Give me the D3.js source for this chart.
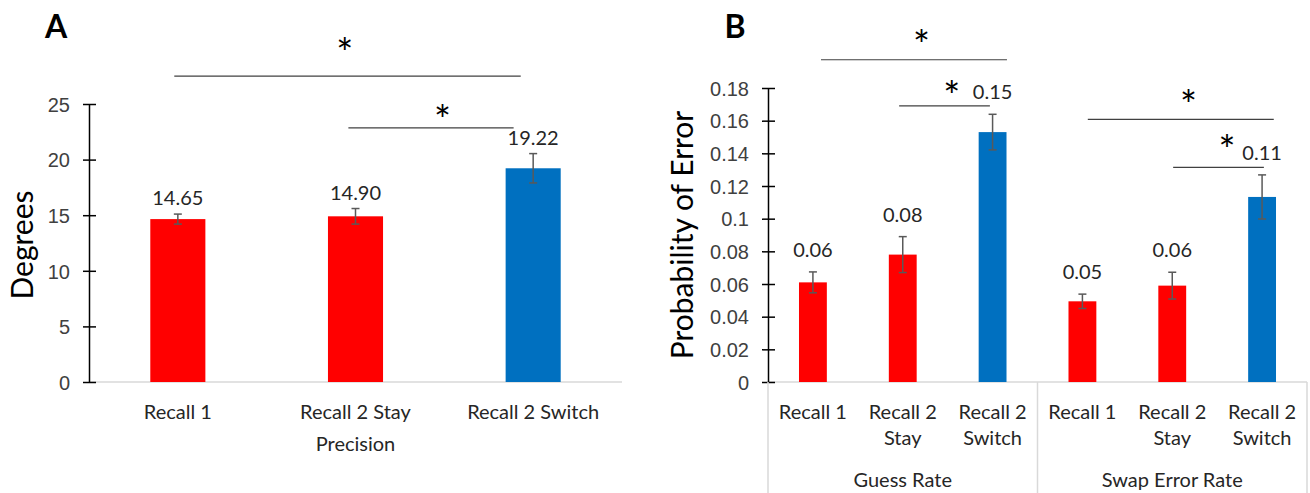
<!DOCTYPE html>
<html>
<head>
<meta charset="utf-8">
<script src="https://cdn.jsdelivr.net/npm/d3@7"></script>
<style>
  body { margin: 0; background: #fff; }
  svg { display: block; font-family: Lato, "Open Sans", sans-serif; }
  .tick text { font-size: 20px; fill: #404040; }
</style>
</head>
<body>
<svg id="chart" width="1310" height="493"></svg>
<script>
'use strict'

// Panel A: precision
const catsA = ['Recall 1', 'Recall 2 Stay', 'Recall 2 Switch']
const valsA = [14.65, 14.90, 19.22]
const errA = [0.45, 0.70, 1.32]
const ticksA = [0, 5, 10, 15, 20, 25]
const groupA = 'Precision'

// Panel B: guess / swap rates
const groupsB = ['Guess Rate', 'Swap Error Rate']
const condsB = ['Recall 1', 'Recall 2 Stay', 'Recall 2 Switch']
const guessVals = [0.061, 0.078, 0.153]
const guessErr = [0.0064, 0.011, 0.0109]
const swapVals = [0.0494, 0.059, 0.1133]
const swapErr = [0.0044, 0.0082, 0.0135]
const ticksB = [0, 0.02, 0.04, 0.06, 0.08, 0.1, 0.12, 0.14, 0.16, 0.18]

// significance brackets, x in category-slot units, y in data units
const sigA = [
  { from: 0.48, to: 2.43, level: 27.5, sx: 1.44, sy: 30.3 },
  { from: 1.46, to: 2.39, level: 22.85, sx: 1.99, sy: 24.3 }
]
const sigB = [
  { from: 0.59, to: 2.66, level: 0.1973, sx: 1.71, sy: 0.2112 },
  { from: 1.46, to: 2.47, level: 0.1691, sx: 2.045, sy: 0.18 },
  { from: 3.56, to: 5.63, level: 0.1608, sx: 4.68, sy: 0.1747 },
  { from: 4.51, to: 5.52, level: 0.1314, sx: 5.11, sy: 0.1471 }
]

const RED = '#ff0000'
const BLUE = '#0070c0'
const colorFor = c => c.indexOf('Switch') >= 0 ? BLUE : RED

const svg = d3.select('#chart')
const base = 382

function drawPanel (opts) {
  const g = svg.append('g')
  const x = d3.scaleBand().domain(opts.keys).range(opts.xr).padding(0)
  const slot = d3.scaleLinear().domain([0, opts.keys.length]).range(opts.xr)
  const y = d3.scaleLinear().domain(opts.ydom).range([base, opts.ytop])
  const bw = x.bandwidth() * 0.31

  // category baseline
  g.append('line')
    .attr('x1', opts.xr[0]).attr('x2', opts.xr[1])
    .attr('y1', base).attr('y2', base)
    .attr('stroke', '#d9d9d9').attr('stroke-width', 1.5)

  // y axis
  const ax = g.append('g')
    .attr('transform', `translate(${opts.xr[0]},0)`)
    .call(d3.axisLeft(y).tickValues(opts.ticks).tickSizeInner(6).tickSizeOuter(0)
      .tickPadding(13).tickFormat(d => String(+d.toFixed(2))))
  ax.select('.domain').attr('stroke', '#000').attr('stroke-width', 1.5)
  ax.selectAll('.tick line').attr('x1', 7).attr('stroke', '#000').attr('stroke-width', 1.5)
  ax.selectAll('.tick text').attr('dy', '0.36em')

  // bars
  g.selectAll('rect.bar').data(opts.rows).join('rect')
    .attr('class', 'bar')
    .attr('x', d => x(d.key) + x.bandwidth() / 2 - bw / 2)
    .attr('width', bw)
    .attr('y', d => y(d.v))
    .attr('height', d => base - y(d.v))
    .attr('fill', d => colorFor(d.cond))

  // error bars
  const eb = g.selectAll('g.err').data(opts.rows).join('g').attr('class', 'err')
    .attr('stroke', '#595959').attr('stroke-width', 1.5)
  eb.append('line')
    .attr('x1', d => x(d.key) + x.bandwidth() / 2).attr('x2', d => x(d.key) + x.bandwidth() / 2)
    .attr('y1', d => y(d.v - d.e)).attr('y2', d => y(d.v + d.e))
  eb.selectAll('line.cap').data(d => [[d, d.v - d.e], [d, d.v + d.e]]).join('line')
    .attr('class', 'cap')
    .attr('x1', d => x(d[0].key) + x.bandwidth() / 2 - 4)
    .attr('x2', d => x(d[0].key) + x.bandwidth() / 2 + 4)
    .attr('y1', d => y(d[1])).attr('y2', d => y(d[1]))

  // value labels
  g.selectAll('text.val').data(opts.rows).join('text')
    .attr('class', 'val')
    .attr('x', d => x(d.key) + x.bandwidth() / 2)
    .attr('y', d => y(d.v + d.e) - opts.labelGap)
    .attr('text-anchor', 'middle')
    .attr('font-size', 20).attr('fill', '#262626')
    .text(d => d.v.toFixed(2))

  // category labels
  const cl = g.selectAll('text.cat').data(opts.rows).join('text')
    .attr('class', 'cat')
    .attr('text-anchor', 'middle')
    .attr('font-size', 20).attr('fill', '#262626')
  cl.selectAll('tspan').data(d => opts.wrap(d.cond).map(t => [d, t])).join('tspan')
    .attr('x', d => x(d[0].key) + x.bandwidth() / 2)
    .attr('y', (d, i) => 419 + i * 26)
    .text(d => d[1])

  // significance brackets
  g.selectAll('line.sig').data(opts.sig).join('line')
    .attr('class', 'sig')
    .attr('x1', d => slot(d.from)).attr('x2', d => slot(d.to))
    .attr('y1', d => y(d.level)).attr('y2', d => y(d.level))
    .attr('stroke', '#404040').attr('stroke-width', 1.2)
  g.selectAll('text.star').data(opts.sig).join('text')
    .attr('class', 'star')
    .attr('x', d => slot(d.sx))
    .attr('y', d => y(d.sy) + 23)
    .attr('text-anchor', 'middle')
    .attr('font-size', 40).attr('fill', '#000')
    .text('*')

  // y title
  g.append('text')
    .attr('transform', `translate(${opts.titleX},${opts.titleY}) rotate(-90)`)
    .attr('text-anchor', 'middle')
    .attr('font-size', 30).attr('fill', '#000')
    .text(opts.title)

  // panel letter
  g.append('text')
    .attr('x', opts.letterX).attr('y', 38)
    .attr('text-anchor', 'middle')
    .attr('font-size', 32).attr('font-weight', 'bold')
    .text(opts.letter)

  return { g, x, slot }
}

// Panel A
const rowsA = catsA.map((c, i) => ({ key: c, cond: c, v: valsA[i], e: errA[i] }))
const pA = drawPanel({
  keys: catsA, rows: rowsA, xr: [89, 622], ydom: [0, 25], ytop: 104,
  ticks: ticksA, labelGap: 9, sig: sigA, wrap: c => [c],
  title: 'Degrees', titleX: 33, titleY: 245, letter: 'A', letterX: 56
})
pA.g.append('text')
  .attr('x', pA.slot(1.5)).attr('y', 451)
  .attr('text-anchor', 'middle').attr('font-size', 20).attr('fill', '#262626')
  .text(groupA)

// Panel B
const rowsB = []
groupsB.forEach((grp, gi) => {
  const vals = gi === 0 ? guessVals : swapVals
  const errs = gi === 0 ? guessErr : swapErr
  condsB.forEach((c, i) => rowsB.push({ key: grp + '|' + c, cond: c, group: grp, v: vals[i], e: errs[i] }))
})
const pB = drawPanel({
  keys: rowsB.map(d => d.key), rows: rowsB, xr: [768, 1307], ydom: [0, 0.18], ytop: 88,
  ticks: ticksB, labelGap: 15, sig: sigB,
  wrap: c => {
    const w = c.split(' ')
    return w.length > 2 ? [w.slice(0, 2).join(' '), w.slice(2).join(' ')] : [c]
  },
  title: 'Probability of Error', titleX: 693, titleY: 235, letter: 'B', letterX: 735
})
// group separators and labels
pB.g.selectAll('line.sep').data([0, condsB.length, condsB.length * 2]).join('line')
  .attr('class', 'sep')
  .attr('x1', d => pB.slot(d)).attr('x2', d => pB.slot(d))
  .attr('y1', base).attr('y2', 493)
  .attr('stroke', '#d9d9d9').attr('stroke-width', 1.5)
pB.g.selectAll('text.grp').data(groupsB).join('text')
  .attr('class', 'grp')
  .attr('x', (d, i) => pB.slot(i * condsB.length + condsB.length / 2))
  .attr('y', 487)
  .attr('text-anchor', 'middle').attr('font-size', 20).attr('fill', '#262626')
  .text(d => d)
</script>
</body>
</html>
